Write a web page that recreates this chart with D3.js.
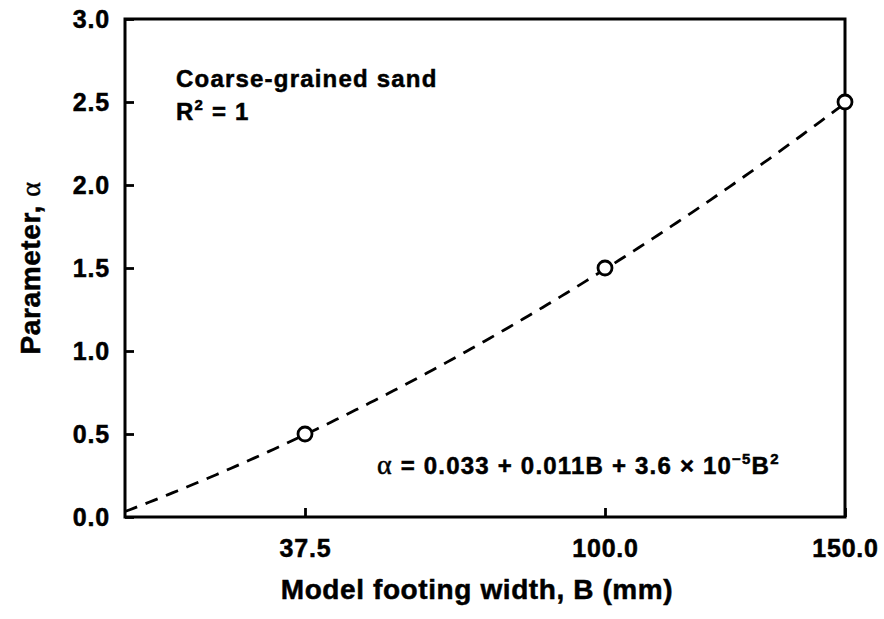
<!DOCTYPE html>
<html>
<head>
<meta charset="utf-8">
<script src="https://cdn.jsdelivr.net/npm/d3@7"></script>
<style>
  html, body { margin: 0; padding: 0; background: #fff; }
  svg { display: block; }
  text { font-family: "Liberation Sans", Arial, sans-serif; font-weight: bold; fill: #000; stroke: #000; stroke-width: 0.5px; }
</style>
</head>
<body>
<svg id="chart" width="884" height="619"></svg>
<script>
// Measured points: footing width B (mm) and fitted parameter alpha
const footingWidth = [37.5, 100.0, 150.0];
const alphaValues = [0.5, 1.5, 2.5];

// Quadratic fit: alpha = c0 + c1*B + c2*B^2
const fitCoefficients = [0.033, 0.011, 3.6e-5];
const fitRange = [0, 150];

// Axis ticks
const xTicks = [37.5, 100.0, 150.0];
const yTicks = [0.0, 0.5, 1.0, 1.5, 2.0, 2.5, 3.0];

const svg = d3.select("#chart");
const margin = { left: 125, right: 39, top: 19, bottom: 102 };
const W = 884, H = 619;
const innerW = W - margin.left - margin.right;
const innerH = H - margin.top - margin.bottom;

const x = d3.scaleLinear().domain([0, 150]).range([margin.left, margin.left + innerW]);
const y = d3.scaleLinear().domain([0, 3]).range([margin.top + innerH, margin.top]);

// Fitted curve sampled along B
const fitB = d3.range(fitRange[0], fitRange[1] + 0.001, 1);
const fitPts = fitB.map(b => [b, fitCoefficients[0] + fitCoefficients[1] * b + fitCoefficients[2] * b * b]);

svg.append("defs").append("clipPath").attr("id", "plotclip")
  .append("rect").attr("x", margin.left).attr("y", margin.top)
  .attr("width", innerW).attr("height", innerH);

svg.append("path")
  .datum(fitPts)
  .attr("clip-path", "url(#plotclip)")
  .attr("fill", "none")
  .attr("stroke", "#000")
  .attr("stroke-width", 2.8)
  .attr("stroke-dasharray", "13,9")
  .attr("d", d3.line().x(d => x(d[0])).y(d => y(d[1])));

// Axes with inward ticks
const xAxis = d3.axisBottom(x).tickValues(xTicks).tickSizeInner(-9).tickSizeOuter(0)
  .tickFormat(d3.format(".1f")).tickPadding(22);
const yAxis = d3.axisLeft(y).tickValues(yTicks).tickSizeInner(-9).tickSizeOuter(0)
  .tickFormat(d3.format(".1f")).tickPadding(15);

const gx = svg.append("g").attr("transform", `translate(0,${margin.top + innerH})`).call(xAxis);
const gy = svg.append("g").attr("transform", `translate(${margin.left},0)`).call(yAxis);
[gx, gy].forEach(g => {
  g.select(".domain").remove();
  g.selectAll(".tick line").attr("stroke", "#000").attr("stroke-width", 2.8);
  g.selectAll(".tick text")
    .attr("fill", "#000")
    .style("font-size", "25px")
    .style("letter-spacing", "0.8px")
    .style("font-family", "'Liberation Sans', Arial, sans-serif")
    .style("font-weight", "bold")
    .style("stroke", "#000")
    .style("stroke-width", "0.5px");
});

// Frame
svg.append("rect")
  .attr("x", margin.left).attr("y", margin.top)
  .attr("width", innerW).attr("height", innerH)
  .attr("fill", "none").attr("stroke", "#000").attr("stroke-width", 3);

// Data markers
svg.selectAll("circle.pt")
  .data(footingWidth.map((b, i) => [b, alphaValues[i]]))
  .join("circle")
  .attr("class", "pt")
  .attr("cx", d => x(d[0])).attr("cy", d => y(d[1]))
  .attr("r", 7)
  .attr("fill", "#fff").attr("stroke", "#000").attr("stroke-width", 2.8);

// Axis titles
svg.append("text")
  .attr("x", margin.left + innerW / 2 - 8).attr("y", 599)
  .attr("text-anchor", "middle")
  .style("font-size", "28px")
  .style("letter-spacing", "0.6px")
  .text("Model footing width, B (mm)");

const yt = svg.append("text")
  .attr("transform", `translate(40,${margin.top + innerH / 2}) rotate(-90)`)
  .attr("text-anchor", "middle")
  .style("font-size", "28px")
  .style("letter-spacing", "0.6px");
yt.append("tspan").text("Parameter, ");
yt.append("tspan").style("font-family", "'Liberation Serif', serif").style("font-weight", "normal").text("α");

// Annotation
svg.append("text").attr("x", 176).attr("y", 87)
  .style("font-size", "24px").style("letter-spacing", "1.2px")
  .text("Coarse-grained sand");
const r2 = svg.append("text").attr("x", 176).attr("y", 120)
  .style("font-size", "24px").style("letter-spacing", "1.2px");
r2.append("tspan").text("R");
r2.append("tspan").attr("dy", -10).style("font-size", "15px").text("2");
r2.append("tspan").attr("dy", 10).text(" = 1");

// Fit equation
const eq = svg.append("text").attr("x", 377).attr("y", 474)
  .style("font-size", "24px").style("letter-spacing", "1.2px");
eq.append("tspan").style("font-family", "'Liberation Serif', serif").style("font-weight", "normal").style("font-size", "28px").text("α");
eq.append("tspan").text(" = 0.033 + 0.011B + 3.6 × 10");
eq.append("tspan").attr("dy", -10).style("font-size", "15px").text("−5");
eq.append("tspan").attr("dy", 10).text("B");
eq.append("tspan").attr("dy", -10).style("font-size", "15px").text("2");
</script>
</body>
</html>
